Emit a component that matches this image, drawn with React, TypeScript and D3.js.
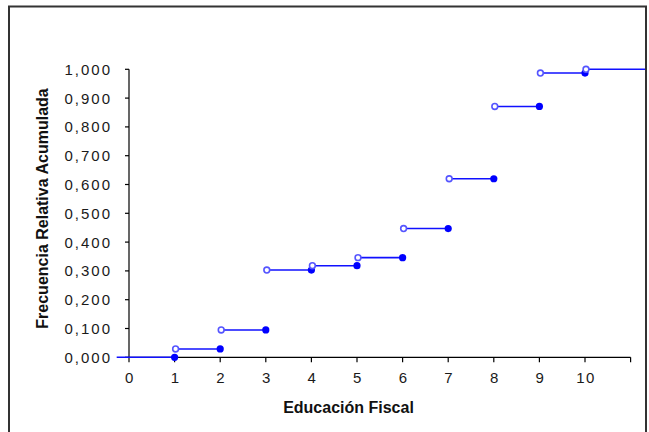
import React from "react";
import * as d3 from "d3";

const xValues = [0, 1, 2, 3, 4, 5, 6, 7, 8, 9, 10];
const cumFreq = [0, 0.029, 0.095, 0.303, 0.318, 0.346, 0.447, 0.62, 0.871, 0.987, 1.0];
const firstStart = -0.27;
const lastEnd = 11.5;
const xTicks = [0, 1, 2, 3, 4, 5, 6, 7, 8, 9, 10, 11];
const xTickLabels = ["0", "1", "2", "3", "4", "5", "6", "7", "8", "9", "10", ""];
const yTicks = [0, 0.1, 0.2, 0.3, 0.4, 0.5, 0.6, 0.7, 0.8, 0.9, 1.0];
const xTitle = "Educación Fiscal";
const yTitle = "Frecuencia Relativa Acumulada";

const W = 649;
const H = 432;

export default function App() {
  const x = d3.scaleLinear().domain([0, 11]).range([129, 630.6]);
  const y = d3.scaleLinear().domain([0, 1]).range([357.3, 69.3]);
  const fmt = (v: number) => v.toFixed(3).replace(".", ",");

  const segments = xValues.map((xv, i) => ({
    x0: i === 0 ? firstStart : xv,
    x1: i === xValues.length - 1 ? lastEnd : xv + 1,
    v: cumFreq[i],
    open: i > 0,
    closed: i < xValues.length - 1,
  }));

  const font = "'Liberation Sans', Arial, sans-serif";

  return (
    <svg
      width={W}
      height={H}
      style={{ position: "absolute", left: 0, top: 0, background: "#fff" }}
    >
      <defs>
        <clipPath id="frame">
          <rect x={9} y={6} width={637} height={H} />
        </clipPath>
      </defs>
      {/* y axis */}
      <line x1={x(0)} x2={x(0)} y1={y(1)} y2={y(0)} stroke="#000" strokeWidth={1.2} />
      {yTicks.map((t) => (
        <g key={"y" + t}>
          <line x1={x(0) - 4} x2={x(0)} y1={y(t)} y2={y(t)} stroke="#000" strokeWidth={1.2} />
          <text
            x={112}
            y={y(t) + 5.5}
            textAnchor="end"
            fontFamily={font}
            fontSize={15}
            letterSpacing={2}
            fill="#1a1a1a"
          >
            {fmt(t)}
          </text>
        </g>
      ))}
      {/* x axis */}
      <line x1={x(0)} x2={x(11)} y1={y(0)} y2={y(0)} stroke="#000" strokeWidth={1.2} />
      {xTicks.map((t, i) => (
        <g key={"x" + t}>
          <line x1={x(t)} x2={x(t)} y1={y(0)} y2={y(0) + 5} stroke="#000" strokeWidth={1.2} />
          <text
            x={x(t) + 1}
            y={383}
            textAnchor="middle"
            fontFamily={font}
            fontSize={15}
            letterSpacing={1.5}
            fill="#1a1a1a"
          >
            {xTickLabels[i]}
          </text>
        </g>
      ))}
      {/* step segments */}
      <g clipPath="url(#frame)">
        {segments.map((s, i) => (
          <line
            key={"s" + i}
            x1={x(s.x0)}
            x2={x(s.x1)}
            y1={y(s.v)}
            y2={y(s.v)}
            stroke="#1010ff"
            strokeWidth={1.6}
          />
        ))}
        {segments.map((s, i) =>
          s.closed ? (
            <circle key={"c" + i} cx={x(s.x1)} cy={y(s.v)} r={3.6} fill="#0000ff" />
          ) : null
        )}
        {segments.map((s, i) =>
          s.open ? (
            <circle
              key={"o" + i}
              cx={x(s.x0) + 1}
              cy={y(s.v)}
              r={2.9}
              fill="#fff"
              stroke="#5555ff"
              strokeWidth={1.6}
            />
          ) : null
        )}
      </g>
      {/* titles */}
      <text
        x={348.5}
        y={413}
        textAnchor="middle"
        fontFamily={font}
        fontWeight="bold"
        fontSize={16}
        fill="#111"
      >
        {xTitle}
      </text>
      <text
        transform={`translate(48, 208.5) rotate(-90)`}
        textAnchor="middle"
        fontFamily={font}
        fontWeight="bold"
        fontSize={16}
        fill="#111"
      >
        {yTitle}
      </text>
      {/* frame */}
      <rect x={9} y={6.5} width={637} height={H + 10} fill="none" stroke="#333" strokeWidth={2} />
    </svg>
  );
}
